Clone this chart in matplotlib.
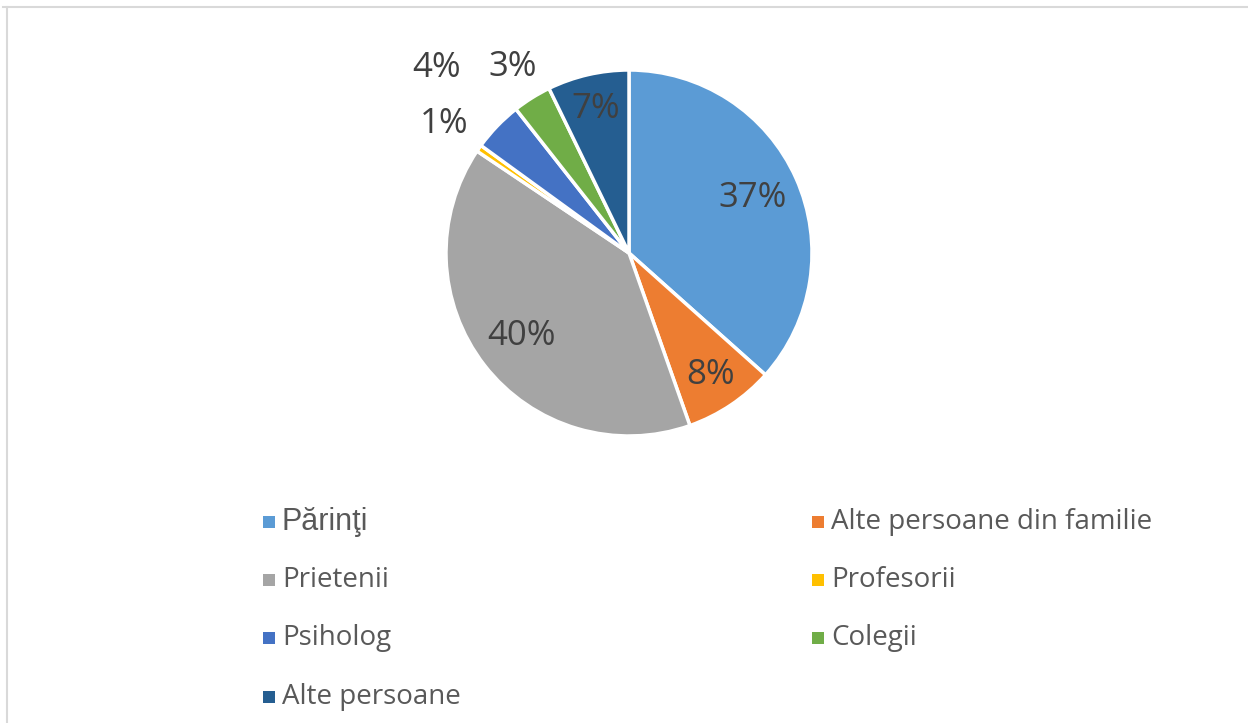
import numpy as np
import matplotlib
matplotlib.use("Agg")
import matplotlib.pyplot as plt
from matplotlib.lines import Line2D
from matplotlib.patches import Rectangle

# ------- date -------
categorii = ["Părinţi", "Alte persoane din familie", "Prietenii", "Profesorii",
             "Psiholog", "Colegii", "Alte persoane"]
procente = [36.6, 8.0, 39.8, 0.6, 4.4, 3.4, 7.2]
etichete = ["37%", "8%", "40%", "1%", "4%", "3%", "7%"]
culori = ["#5B9BD5", "#ED7D31", "#A5A5A5", "#FFC000", "#4472C4", "#70AD47", "#255E91"]

# distanta eticheta / raza (interior sau exterior)
dist_et = [0.74, 0.80, 0.74, 1.23, 1.46, 1.20, 0.81]

W, H = 1248, 723
fig = plt.figure(figsize=(W / 100, H / 100), dpi=100)
fig.patch.set_facecolor("white")

# chenar (doar sus si stanga vizibile)
fig.add_artist(Line2D([3 / W, 1], [1 - 7 / H, 1 - 7 / H], color="#D9D9D9", lw=1.5,
                      transform=fig.transFigure))
fig.add_artist(Line2D([7 / W, 7 / W], [0, 1 - 7 / H], color="#D9D9D9", lw=1.5,
                      transform=fig.transFigure))

cx, cy, r = 629, 253, 183
ax = fig.add_axes([(cx - r) / W, (H - cy - r) / H, 2 * r / W, 2 * r / H])
wedges, _ = ax.pie(procente, colors=culori, startangle=90, counterclock=False,
                   wedgeprops=dict(edgecolor="white", linewidth=2.5))
ax.set_xlim(-1, 1)
ax.set_ylim(-1, 1)
ax.set_aspect("equal")
ax.axis("off")

for w, et, d in zip(wedges, etichete, dist_et):
    a = np.deg2rad((w.theta1 + w.theta2) / 2)
    ax.text(d * np.cos(a), d * np.sin(a), et, ha="center", va="center",
            fontsize=25, color="#404040", family="Open Sans", clip_on=False)

# legenda pe 2 coloane, completata pe randuri
col_x = [263, 812]
rand_y = [522, 580, 638, 697]
for i, (nume, c) in enumerate(zip(categorii, culori)):
    x = col_x[i % 2]
    y = rand_y[i // 2]
    fig.add_artist(Rectangle((x / W, (H - y - 6) / H), 12 / W, 12 / H,
                             facecolor=c, edgecolor="none", transform=fig.transFigure))
    fam = "Liberation Sans" if i == 0 else "Open Sans"
    fs = 22 if i == 0 else 20
    fig.text((x + 19) / W, (H - y) / H, nume, ha="left", va="center",
             fontsize=fs, color="#595959", family=fam)

fig.savefig("out.png", dpi=100)
